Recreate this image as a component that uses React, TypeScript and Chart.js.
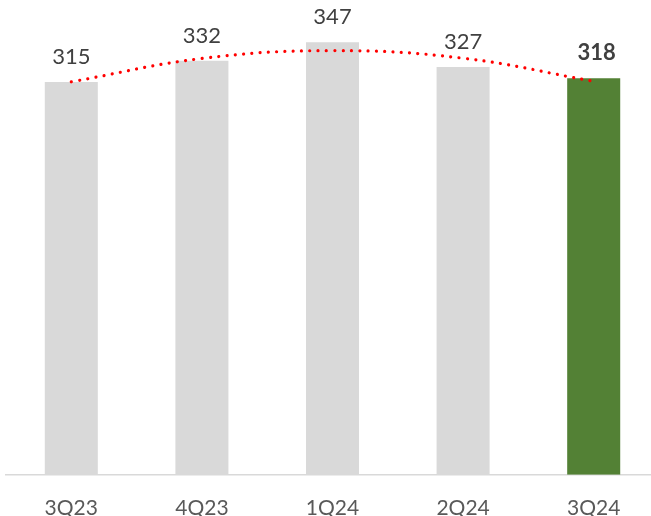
import React, { useEffect, useRef } from "react";
import { Chart, registerables } from "chart.js";

Chart.register(...registerables);

const categories = ["3Q23", "4Q23", "1Q24", "2Q24", "3Q24"];
const values = [315, 332, 347, 327, 318];
const trendValues = [315.2, 333.9, 340.2, 334.1, 315.6];
const barColors = ["#d9d9d9", "#d9d9d9", "#d9d9d9", "#d9d9d9", "#538135"];
const boldLabel = [false, false, false, false, true];

const FONT = "Lato, 'Open Sans', sans-serif";

const labelPlugin = {
  id: "barLabels",
  afterDatasetsDraw(chart: any) {
    const meta = chart.getDatasetMeta(0);
    const ctx = chart.ctx;
    ctx.save();
    ctx.textAlign = "center";
    ctx.textBaseline = "alphabetic";
    meta.data.forEach((bar: any, i: number) => {
      ctx.font = `${boldLabel[i] ? "bold " : ""}22px ${FONT}`;
      ctx.fillStyle = "#404040";
      ctx.fillText(String(values[i]), bar.x + (boldLabel[i] ? 3 : 0), bar.y - 18);
    });
    ctx.restore();
  },
};

export default function App() {
  const ref = useRef<HTMLCanvasElement>(null);
  useEffect(() => {
    if (!ref.current) return;
    const chart = new Chart(ref.current, {
      type: "bar",
      data: {
        labels: categories,
        datasets: [
          {
            type: "bar",
            data: values,
            backgroundColor: barColors,
            barPercentage: 0.406,
            categoryPercentage: 1,
            order: 1,
          },
          {
            type: "line",
            data: trendValues,
            borderColor: "#ff0000",
            borderWidth: 3.2,
            borderDash: [0.01, 8.3],
            borderCapStyle: "round",
            pointRadius: 0,
            tension: 0.4,
            fill: false,
            order: 0,
          } as any,
        ],
      },
      options: {
        animation: false,
        responsive: false,
        maintainAspectRatio: false,
        layout: { padding: { left: 6, right: 3, top: 1, bottom: 2 } },
        plugins: { legend: { display: false }, tooltip: { enabled: false } },
        scales: {
          x: {
            grid: { display: false, drawTicks: false },
            border: { display: true, color: "#d9d9d9", width: 1.5 },
            ticks: { color: "#595959", font: { family: FONT, size: 21 }, padding: 21 },
          },
          y: { display: false, min: 0, max: 380 },
        },
      },
      plugins: [labelPlugin],
    });
    return () => chart.destroy();
  }, []);
  return (
    <div style={{ position: "fixed", left: 0, top: 0, width: 651, height: 516, overflow: "hidden", background: "#fff" }}>
      <canvas ref={ref} width={662} height={544} style={{ display: "block" }} />
    </div>
  );
}
